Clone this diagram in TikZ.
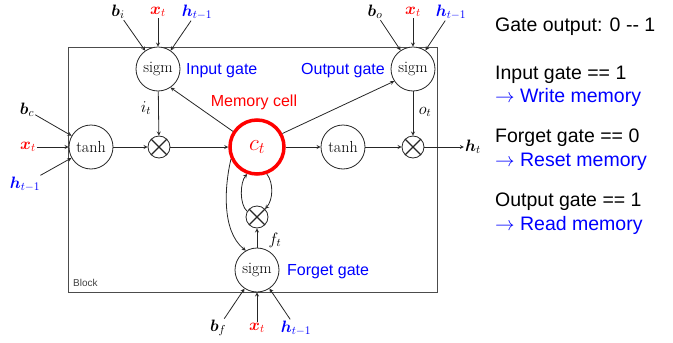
\documentclass[tikz,border=0pt]{standalone}
\usepackage{fix-cm}
\usepackage{amsmath}
\usepackage{fontspec}
\newfontfamily\arialfont{Liberation Sans}

\tikzset{
  unit/.style={circle, draw=black!85, fill=white, line width=0.8pt, minimum size=44pt, inner sep=0pt, font=\fontsize{16}{18}\selectfont},
  mult/.style={circle, draw=black!85, fill=white, line width=0.8pt, minimum size=22pt, inner sep=0pt,
    path picture={\draw[line width=1.3pt] (path picture bounding box.north west) -- (path picture bounding box.south east)
      (path picture bounding box.north east) -- (path picture bounding box.south west);}},
  term/.style={font=\fontsize{16.5}{18}\selectfont, inner sep=1pt},
  tag/.style={font=\arialfont\fontsize{16}{18}\selectfont, inner sep=0pt},
  note/.style={font=\arialfont\fontsize{19.5}{22}\selectfont, inner sep=0pt, anchor=base west},
  wire/.style={->, draw=black!85, line width=0.8pt},
}

\begin{document}
\begin{tikzpicture}[>=stealth, x=1pt, y=-1pt]

    \useasboundingbox (0,0) rectangle (673,343);

    % --- Block ---
    \draw[black!70, line width=1pt] (68,47) rectangle (437,292);
    \node[tag, anchor=west, text=black!75, font=\arialfont\fontsize{10}{12}\selectfont] (blk) at (73,283) {Block};

    % --- Units ---
    \node[unit] (sigin) at (158,69) {sigm};
    \node[unit] (sigout) at (413,69) {sigm};
    \node[unit] (tanhin) at (91,147) {tanh};
    \node[mult] (mulin) at (159,147) {};
    \node[circle, draw=red, line width=3.5pt, fill=white, minimum size=54pt, inner sep=0pt,
          text=red, font=\fontsize{23}{25}\selectfont] (cell) at (257,147) {$c_t$};
    \node[unit] (tanhout) at (343,147) {tanh};
    \node[mult] (mulout) at (413,147) {};
    \node[mult] (mulf) at (257,217) {};
    \node[unit] (sigf) at (257,270) {sigm};

    % --- Inputs ---
    \node[term] (bi) at (118,12) {$\boldsymbol{b}_i$};
    \node[term, text=red] (xi) at (158,12) {$\boldsymbol{x}_t$};
    \node[term, text=blue] (hi) at (197,12) {$\boldsymbol{h}_{t-1}$};
    \node[term] (bo) at (375,12) {$\boldsymbol{b}_o$};
    \node[term, text=red] (xo) at (413,12) {$\boldsymbol{x}_t$};
    \node[term, text=blue] (ho) at (451,12) {$\boldsymbol{h}_{t-1}$};
    \node[term] (bc) at (27,110) {$\boldsymbol{b}_c$};
    \node[term, text=red] (xc) at (28,147) {$\boldsymbol{x}_t$};
    \node[term, text=blue] (hc) at (25,184) {$\boldsymbol{h}_{t-1}$};
    \node[term] (bf) at (218,328) {$\boldsymbol{b}_f$};
    \node[term, text=red] (xf) at (257,328) {$\boldsymbol{x}_t$};
    \node[term, text=blue] (hf) at (296,328) {$\boldsymbol{h}_{t-1}$};
    \node[term] (ht) at (473,147) {$\boldsymbol{h}_t$};

    \foreach \src/\dst in {bi/sigin, xi/sigin, hi/sigin, bo/sigout, xo/sigout, ho/sigout,
                           bc/tanhin, xc/tanhin, hc/tanhin, bf/sigf, xf/sigf, hf/sigf}
      \draw[wire] (\src) -- (\dst);

    % --- Main path ---
    \draw[wire] (tanhin) -- (mulin);
    \draw[wire] (mulin) -- (cell);
    \draw[wire] (cell) -- (tanhout);
    \draw[wire] (tanhout) -- (mulout);
    \draw[wire] (mulout) -- (ht);

    % --- Gates ---
    \draw[wire] (sigin) -- (mulin);
    \draw[wire] (sigout) -- (mulout);
    \draw[wire] (sigf) -- (mulf);
    \draw[wire] (cell.147) -- (sigin.-56);
    \draw[wire] (cell.28) -- (sigout.213);
    \draw[wire] (cell.205) .. controls +(-6,25) and +(-25,-20) .. (sigf.120);
    \draw[wire] (mulf.150) .. controls +(-8,-7) and +(-7,8) .. (cell.250);
    \draw[wire] (cell.290) .. controls +(7,9) and +(8,-9) .. (mulf.45);

    % --- Labels ---
    \node[term] (it) at (146,108) {$i_t$};
    \node[term] (ot) at (425,112) {$o_t$};
    \node[term] (ft) at (275,240) {$f_t$};
    \node[tag, text=blue, anchor=west] (inlbl) at (186,71) {Input gate};
    \node[tag, text=blue, anchor=east] (outlbl) at (385,71) {Output gate};
    \node[tag, text=red] (celllbl) at (254,102) {Memory cell};
    \node[tag, text=blue, anchor=west] (flbl) at (287,272) {Forget gate};

    % --- Notes ---
    \node[note] (n1) at (495,31) {Gate output: 0 -{}- 1};
    \node[note] (n2) at (495,79) {Input gate == 1};
    \node[note, text=blue] (n3) at (495,102) {$\rightarrow$ Write memory};
    \node[note] (n4) at (495,142) {Forget gate == 0};
    \node[note, text=blue] (n5) at (495,166) {$\rightarrow$ Reset memory};
    \node[note] (n6) at (495,206) {Output gate == 1};
    \node[note, text=blue] (n7) at (495,230) {$\rightarrow$ Read memory};

\end{tikzpicture}
\end{document}
